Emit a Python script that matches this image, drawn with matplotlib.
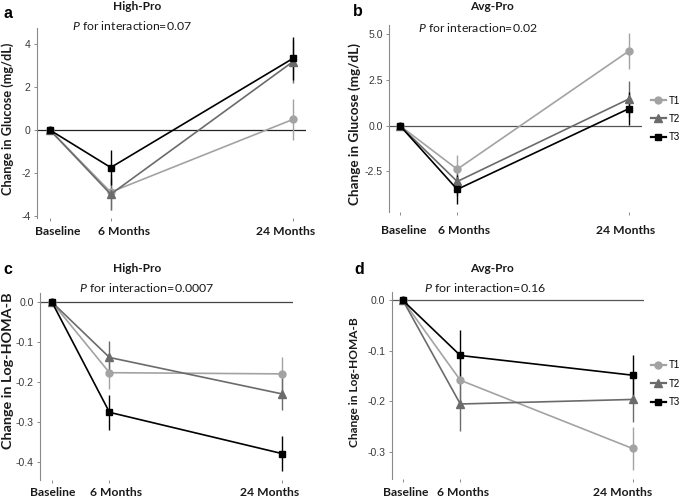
import matplotlib
matplotlib.use("Agg")
import matplotlib.pyplot as plt
from matplotlib.lines import Line2D
from matplotlib.transforms import ScaledTranslation

# ---------------- data ----------------
months = [0, 6, 24]
time_labels = ["Baseline", "6 Months", "24 Months"]
groups = ["T1", "T2", "T3"]

# Panel a: High-Pro, glucose
a_T1 = [0.0, -2.90, 0.50]
a_T1_err = [0.10, 0.85, 0.95]
a_T2 = [0.0, -3.00, 3.20]
a_T2_err = [0.10, 0.75, 1.00]
a_T3 = [0.0, -1.75, 3.35]
a_T3_err = [0.10, 0.80, 1.00]

# Panel b: Avg-Pro, glucose
b_T1 = [0.0, -2.38, 4.08]
b_T1_err = [0.0, 0.80, 0.98]
b_T2 = [0.0, -3.05, 1.46]
b_T2_err = [0.0, 0.80, 1.00]
b_T3 = [0.0, -3.48, 0.93]
b_T3_err = [0.0, 0.80, 0.92]

# Panel c: High-Pro, Log-HOMA-B
c_T1 = [0.0, -0.176, -0.179]
c_T1_err = [0.0, 0.040, 0.042]
c_T2 = [0.0, -0.138, -0.229]
c_T2_err = [0.0, 0.040, 0.040]
c_T3 = [0.0, -0.275, -0.378]
c_T3_err = [0.0, 0.044, 0.044]

# Panel d: Avg-Pro, Log-HOMA-B
d_T1 = [0.0, -0.158, -0.293]
d_T1_err = [0.0, 0.050, 0.042]
d_T2 = [0.0, -0.205, -0.196]
d_T2_err = [0.0, 0.054, 0.045]
d_T3 = [0.0, -0.109, -0.148]
d_T3_err = [0.0, 0.050, 0.040]

panel_letters = ["a", "b", "c", "d"]
panel_titles = ["High-Pro", "Avg-Pro", "High-Pro", "Avg-Pro"]
p_values = ["0.07", "0.02", "0.0007", "0.16"]
y_titles = ["Change in Glucose (mg/dL)", "Change in Glucose (mg/dL)",
            "Change in Log-HOMA-B", "Change in Log-HOMA-B"]
yticks_a = [-4, -2, 0, 2, 4]
yticklabels_a = ["-4", "-2", "0", "2", "4"]
yticks_b = [-2.5, 0.0, 2.5, 5.0]
yticklabels_b = ["-2.5", "0.0", "2.5", "5.0"]
yticks_c = [-0.4, -0.3, -0.2, -0.1, 0.0]
yticklabels_c = ["-0.4", "-0.3", "-0.2", "-0.1", "0.0"]
yticks_d = [-0.3, -0.2, -0.1, 0.0]
yticklabels_d = ["-0.3", "-0.2", "-0.1", "0.0"]

# ---------------- style ----------------
plt.rcParams["mathtext.fontset"] = "custom"
plt.rcParams["mathtext.it"] = "Lato:italic"
plt.rcParams["mathtext.rm"] = "Lato"

colors = {"T1": "#a3a3a3", "T2": "#6b6b6b", "T3": "#000000"}
markers = {"T1": "o", "T2": "^", "T3": "s"}
msizes = {"T1": 5.0, "T2": 5.5, "T3": 4.6}
LABEL_FONT = "Lato"

W, H = 685, 499
fig = plt.figure(figsize=(W / 100, H / 100), dpi=100)
renderer = fig.canvas.get_renderer()


def px_axes(l, t, r, b):
    return fig.add_axes([l / W, 1 - b / H, (r - l) / W, (b - t) / H])


def ftext(x, y, s, **kw):
    return fig.text(x / W, 1 - y / H, s, **kw)


def fit(t, target, vertical=False):
    ext = t.get_window_extent(renderer=renderer)
    size = ext.height if vertical else ext.width
    t.set_fontsize(t.get_fontsize() * target / size)


# title font size: "High-Pro" is about 48 px wide
_probe = fig.text(0, 0, "High-Pro", fontsize=9, fontweight="bold", family=LABEL_FONT)
TITLE_FS = 9 * 48 / _probe.get_window_extent(renderer=renderer).width
_probe.remove()

panels = [
    dict(rect=(37, 28, 306, 218), ylim=(-4.11, 4.77), xlim=(-1.28, 25.28),
         yt=yticks_a, ytl=yticklabels_a,
         data=[(a_T1, a_T1_err), (a_T2, a_T2_err), (a_T3, a_T3_err)],
         xoff=[8, 13, -7], xdy=13,
         letter=(8, 14), title=(137, 7), ptxt=(132, 26, 120),
         ylab=(8, 119, 152), zcol="#222222"),
    dict(rect=(389, 25, 642, 211.7), ylim=(-4.7, 5.5), xlim=(-1.15, 25.37),
         yt=yticks_b, ytl=yticklabels_b,
         data=[(b_T1, b_T1_err), (b_T2, b_T2_err), (b_T3, b_T3_err)],
         xoff=[4, 7, -3], xdy=18,
         letter=(358, 12), title=(492, 7), ptxt=(478, 27, 120),
         ylab=(355, 124, 162), zcol="#555555"),
    dict(rect=(40, 293, 293.3, 480), ylim=(-0.444, 0.023), xlim=(-1.25, 25.18),
         yt=yticks_c, ytl=yticklabels_c,
         data=[(c_T1, c_T1_err), (c_T2, c_T2_err), (c_T3, c_T3_err)],
         xoff=[1, 7, -12], xdy=12,
         letter=(8, 270), title=(137, 268), ptxt=(147, 288, 135),
         ylab=(8, 371, 156), zcol="#444444"),
    dict(rect=(391.7, 292.3, 644, 479.3), ylim=(-0.354, 0.016), xlim=(-1.17, 25.2),
         yt=yticks_d, ytl=yticklabels_d,
         data=[(d_T1, d_T1_err), (d_T2, d_T2_err), (d_T3, d_T3_err)],
         xoff=[3, 3, -10], xdy=12,
         letter=(359, 270), title=(492, 268), ptxt=(485, 288, 122),
         ylab=(355, 382, 130), zcol="#555555"),
]

for i, p in enumerate(panels):
    ax = px_axes(*p["rect"])
    ax.set_xlim(*p["xlim"])
    ax.set_ylim(*p["ylim"])
    ax.axhline(0, color=p["zcol"], lw=0.9, zorder=1)
    for g, (vals, errs) in zip(groups, p["data"]):
        c = colors[g]
        ax.vlines(months, [v - e for v, e in zip(vals, errs)],
                  [v + e for v, e in zip(vals, errs)], color=c, lw=1.0, zorder=2)
        ax.plot(months, vals, color=c, lw=1.2, marker=markers[g],
                ms=msizes[g], mec=c, mfc=c, zorder=3)
    for s in ["top", "right", "bottom"]:
        ax.spines[s].set_visible(False)
    ax.spines["left"].set_color("#8a8a8a")
    ax.spines["left"].set_linewidth(0.8)
    ax.set_yticks(p["yt"])
    ax.set_yticklabels(p["ytl"], fontsize=7.6, color="#3a3a3a",
                       family="Liberation Sans")
    ax.tick_params(axis="y", length=2.5, width=0.7, color="#8a8a8a", pad=2)
    ax.set_xticks(months)
    ax.set_xticklabels(time_labels, fontsize=9, fontweight="bold",
                       family=LABEL_FONT, color="#1a1a1a")
    ax.tick_params(axis="x", length=2, width=0.7, color="#8a8a8a", pad=0)
    labs = ax.get_xticklabels()
    ext = labs[2].get_window_extent(renderer=renderer)
    fs = 9 * 59 / ext.width
    for lab, dx in zip(labs, p["xoff"]):
        lab.set_fontsize(fs)
        lab.set_verticalalignment("center")
        lab.set_transform(lab.get_transform() +
                          ScaledTranslation(dx / 100, -(p["xdy"] - 2) / 100,
                                            fig.dpi_scale_trans))
    ax.patch.set_alpha(0)

    ftext(*p["letter"], panel_letters[i], fontsize=11.5, fontweight="bold",
          family="Liberation Sans", ha="center", va="center")
    tx, ty = p["title"]
    ftext(tx, ty, panel_titles[i], fontsize=TITLE_FS, fontweight="bold",
          family=LABEL_FONT, ha="center", va="center", color="#1a1a1a")
    px_, py_, pw = p["ptxt"]
    t = ftext(px_, py_, r"$\mathit{P}$ for interaction=" + p_values[i],
              fontsize=9, family="Lato", ha="center", va="center", color="#1a1a1a")
    fit(t, pw)
    lx, ly, target_len = p["ylab"]
    t = ftext(lx, ly, y_titles[i], fontsize=9.0, fontweight="bold",
              family=LABEL_FONT, rotation=90, ha="center", va="center",
              color="#1a1a1a")
    fit(t, target_len, vertical=True)

# legends at right of panels b and d
handles = [Line2D([], [], color=colors[g], marker=markers[g], ms=msizes[g],
                  lw=1.6, mec=colors[g], mfc=colors[g]) for g in groups]
for top in (95.5, 360.5):
    fig.legend(handles, groups, loc="upper left",
               bbox_to_anchor=(651 / W, 1 - top / H), frameon=False,
               handlelength=1.5, handletextpad=0.3,
               labelspacing=0.85, borderpad=0, borderaxespad=0,
               prop={"family": "Liberation Sans", "size": 7})

fig.savefig("out.png", dpi=100)
